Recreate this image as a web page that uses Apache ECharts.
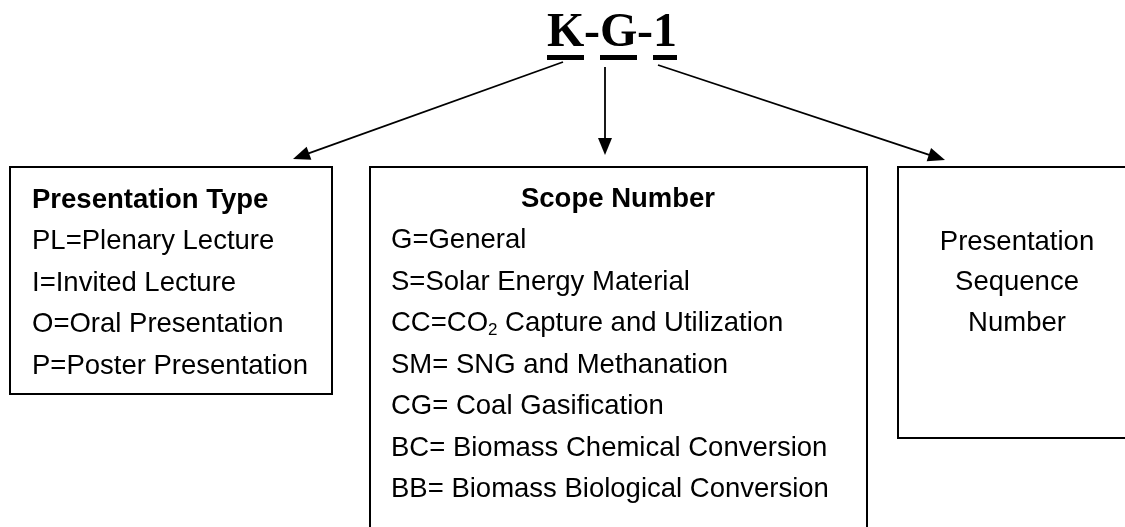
<!DOCTYPE html>
<html>
<head>
<meta charset="utf-8">
<script src="https://cdn.jsdelivr.net/npm/echarts@6/dist/echarts.min.js"></script>
<style>
html, body { margin: 0; padding: 0; background: #fff; }
#main { width: 1125px; height: 527px; }
</style>
</head>
<body>
<div id="main"></div>
<script>
// code parts of the title, underlined pieces first
var codeParts = ['K', '-', 'G', '-', '1'];
var codeUnderlined = [true, false, true, false, true];

var typeTitle = 'Presentation Type';
var typeItems = ['PL=Plenary Lecture', 'I=Invited Lecture', 'O=Oral Presentation', 'P=Poster Presentation'];

var scopeTitle = 'Scope Number';
var scopeItems = [
    'G=General',
    'S=Solar Energy Material',
    'CC=CO{sub|2} Capture and Utilization',
    'SM= SNG and Methanation',
    'CG= Coal Gasification',
    'BC= Biomass Chemical Conversion',
    'BB= Biomass Biological Conversion'
];

var seqLines = ['Presentation', 'Sequence', 'Number'];

var myChart = echarts.init(document.getElementById('main'));

var SANS = '"Liberation Sans", Arial, sans-serif';
var SERIF = '"Liberation Serif", "Times New Roman", serif';
var FS = 27.5;

var elements = [];

//标题 K-G-1
var partX = [547, 584, 600, 637, 653];
var partW = [37, 16, 37, 16, 24];
codeParts.forEach(function (p, i) {
    elements.push({
        type: 'text', x: partX[i], y: 34,
        style: { text: p, fill: '#000', font: 'bold 48px ' + SERIF, verticalAlign: 'middle', align: 'left' }
    });
    if (codeUnderlined[i]) {
        elements.push({
            type: 'rect',
            shape: { x: partX[i], y: 55, width: partW[i], height: 5 },
            style: { fill: '#000' }
        });
    }
});

//箭头
function arrow(x1, y1, x2, y2) {
    var dx = x2 - x1, dy = y2 - y1;
    var len = Math.sqrt(dx * dx + dy * dy);
    var ux = dx / len, uy = dy / len;
    var hl = 17, hw = 7;
    var bx = x2 - ux * hl, by = y2 - uy * hl;
    elements.push({
        type: 'line',
        shape: { x1: x1, y1: y1, x2: bx + ux * 2, y2: by + uy * 2 },
        style: { stroke: '#000', lineWidth: 1.8 }
    });
    elements.push({
        type: 'polygon',
        shape: { points: [[x2, y2], [bx - uy * hw, by + ux * hw], [bx + uy * hw, by - ux * hw]] },
        style: { fill: '#000' }
    });
}
arrow(563, 62, 293, 159);
arrow(605, 67, 605, 155);
arrow(658, 65, 945, 160);

//方框
function box(x, y, w, h) {
    elements.push({
        type: 'rect',
        shape: { x: x, y: y, width: w, height: h },
        style: { fill: 'none', stroke: '#000', lineWidth: 2 }
    });
}
box(10, 167, 322, 227);
box(370, 167, 497, 380);
box(898, 167, 260, 271);

function label(text, x, y, bold, align) {
    elements.push({
        type: 'text', x: x, y: y,
        style: {
            text: text, fill: '#000',
            font: (bold ? 'bold ' : '') + FS + 'px ' + SANS,
            align: align || 'left', verticalAlign: 'middle',
            lineHeight: 30,
            rich: {
                sub: { fontSize: 17, fontFamily: SANS, lineHeight: 16, verticalAlign: 'bottom', fill: '#000' }
            }
        }
    });
}

label(typeTitle, 32, 200, true);
typeItems.forEach(function (t, i) { label(t, 32, 241.5 + i * 41.5, false); });

label(scopeTitle, 618, 199.5, true, 'center');
scopeItems.forEach(function (t, i) { label(t, 391, 240.5 + i * 41.5, false); });

seqLines.forEach(function (t, i) { label(t, 1017, 242 + i * 40.5, false, 'center'); });

//关联配置
myChart.setOption({
    backgroundColor: '#fff',
    animation: false,
    graphic: { elements: elements }
});
</script>
</body>
</html>
